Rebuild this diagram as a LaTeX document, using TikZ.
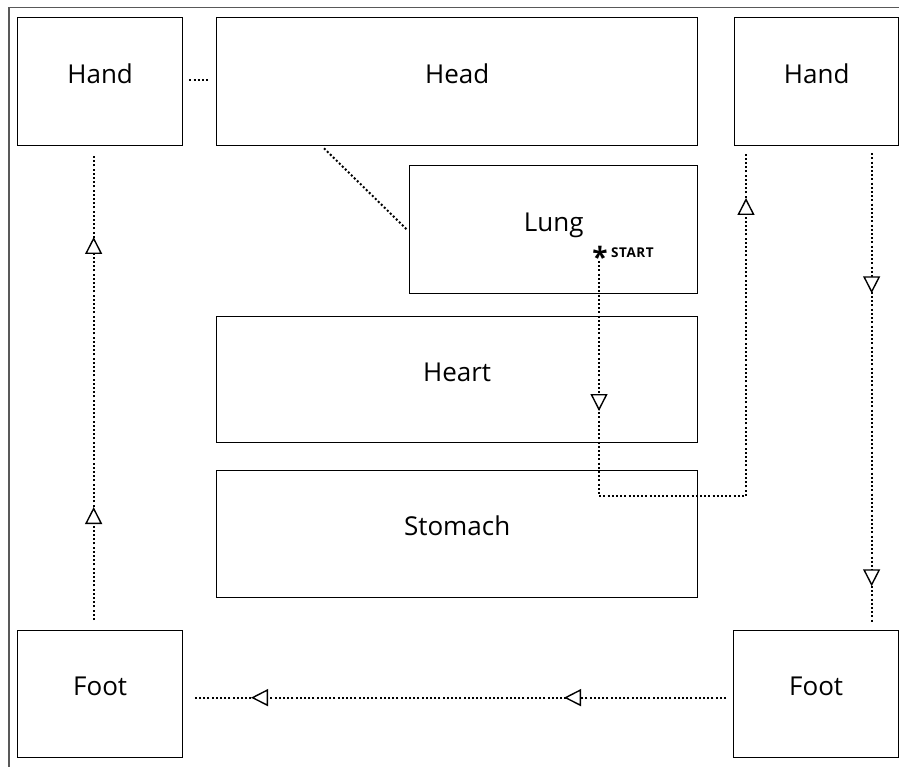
\documentclass[tikz,border=0pt]{standalone}
\usepackage{fontspec}
\setmainfont{Open Sans}
\usetikzlibrary{arrows.meta,decorations.markings}
\tikzset{
  box/.style={draw, line width=1.3pt, anchor=north west, inner sep=0pt,
    font=\fontsize{26}{30}\selectfont, text height=20pt, text depth=17pt},
  dotline/.style={line width=2pt, dash pattern=on 2pt off 2.2pt},
  tri/.tip={Triangle[fill=white, length=17pt, width=17pt, line width=1.4pt]},
  arrowsat/.style n args={2}{decoration={markings,
      mark=at position #1 with {\arrow{tri}},
      mark=at position #2 with {\arrow{tri}}}, postaction={decorate}},
  frame/.style={draw=black!65, line width=1.3pt}
}
\begin{document}
\begin{tikzpicture}[x=1pt,y=-1pt]
\useasboundingbox (0,0) rectangle (899,767);
\draw[frame] (9,767) -- (9,7.5) -- (899,7.5);

\node[box, minimum width=165pt, minimum height=128pt] (handL) at (17,17) {Hand};
\node[box, minimum width=481pt, minimum height=128pt] (head) at (216,17) {Head};
\node[box, minimum width=164pt, minimum height=128pt] (handR) at (734,17) {Hand};
\node[box, minimum width=288pt, minimum height=128pt] (lung) at (409,165) {Lung};
\node[box, minimum width=481pt, minimum height=126pt] (heart) at (216,316) {Heart};
\node[box, minimum width=481pt, minimum height=127pt] (stomach) at (216,470) {Stomach};
\node[box, minimum width=165pt, minimum height=127pt] (footL) at (17,630) {Foot};
\node[box, minimum width=165pt, minimum height=127pt] (footR) at (733,630) {Foot};

% start marker
\node[anchor=north, inner sep=0pt, font=\fontsize{28}{28}\selectfont\bfseries] (star) at (600,246.5) {*};
\node[anchor=north west, inner sep=0pt, font=\fontsize{13.5}{14}\selectfont\bfseries\addfontfeature{LetterSpace=4}] (startlbl) at (611,248) {START};
\coordinate (start) at (599,261);
\coordinate (turn) at (746,496);

% plain dotted links
\draw[dotline] ([shift={(6pt,2pt)}]handL.east) -- ([shift={(-6pt,2pt)}]head.west);
\draw[dotline] ([shift={(108pt,-2pt)}]head.south west) -- ([xshift=-2pt]lung.west);

% loop
\draw[dotline, arrowsat={150pt}{680pt}] (start) |- (turn) -- ([shift={(12pt,-7pt)}]handR.south west);
\draw[dotline, arrowsat={140pt}{433pt}] ([shift={(55pt,-7pt)}]handR.south) -- ([shift={(55.5pt,8pt)}]footR.north);
\draw[dotline, arrowsat={162pt}{475pt}] ([shift={(-7pt,-3.5pt)}]footR.west) -- ([shift={(11pt,-3.5pt)}]footL.east);
\draw[dotline, arrowsat={113pt}{383pt}] ([shift={(-6.5pt,10pt)}]footL.north) -- ([shift={(-6.5pt,-8pt)}]handL.south);
\end{tikzpicture}
\end{document}
